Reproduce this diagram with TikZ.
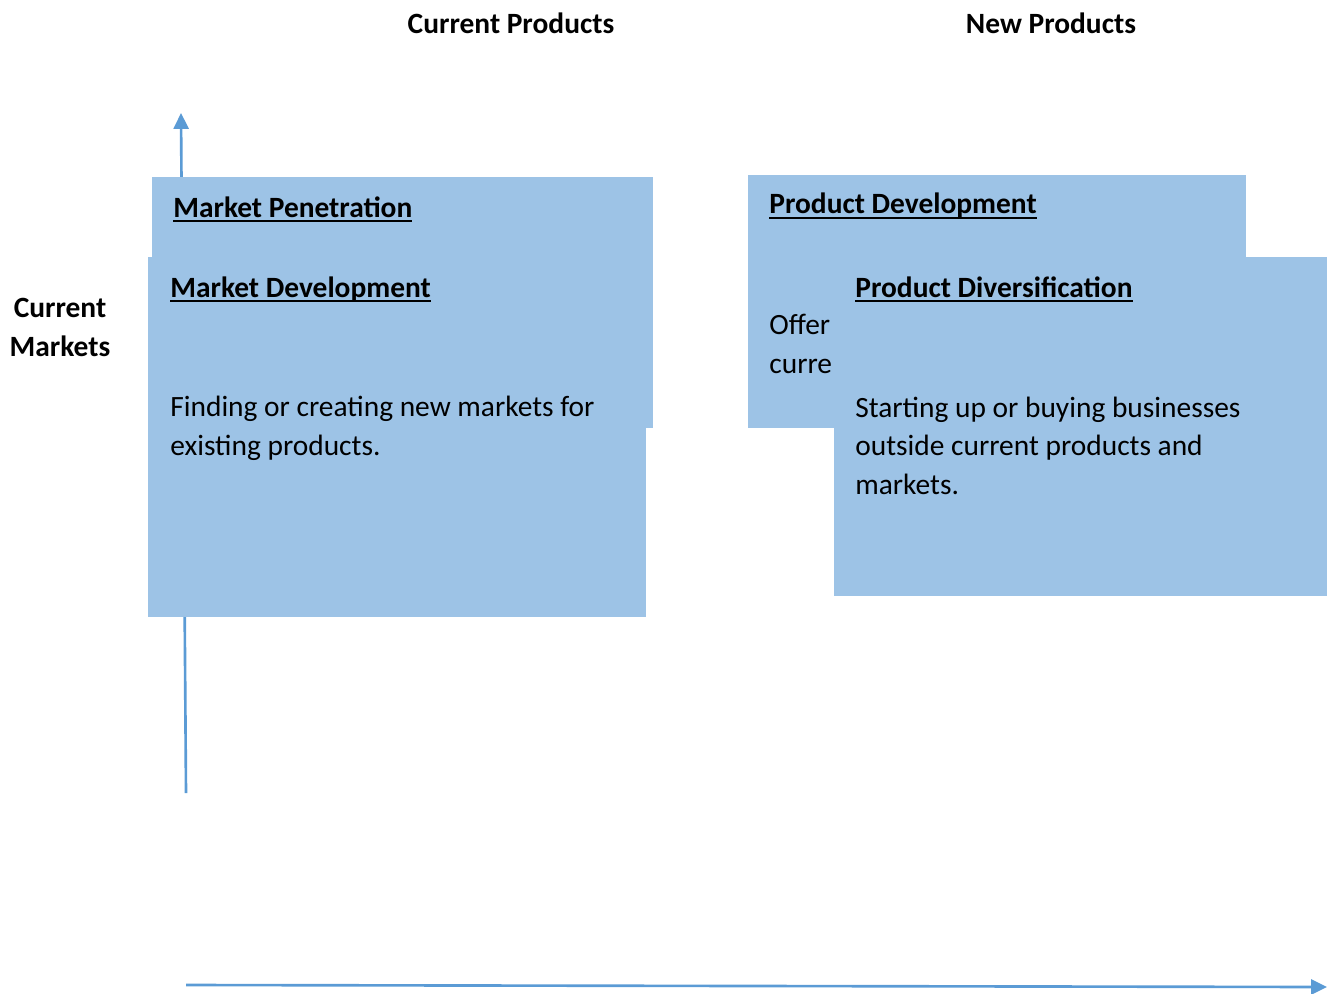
\documentclass[tikz,border=0pt]{standalone}
\usepackage{fontspec}
\setmainfont{Carlito}
\usetikzlibrary{arrows.meta}
\definecolor{boxblue}{HTML}{9DC3E6}
\definecolor{axisblue}{HTML}{5B9BD5}
% underline drawn as a rule just below the baseline
\newcommand{\titleline}[1]{\setbox0\hbox{#1}\rlap{\rule[-2.7pt]{\wd0}{1.2pt}}\box0}

\begin{document}
\begin{tikzpicture}[x=0.02cm,y=-0.02cm,
  quad/.style={fill=boxblue, draw=none, anchor=north west, inner sep=0pt, outer sep=0pt},
  body/.style={anchor=base west, inner sep=0pt, align=left,
    font=\fontsize{16.75}{21.9}\selectfont},
  head/.style={body, font=\fontsize{16.75}{21.9}\selectfont\bfseries},
  axis/.style={draw=axisblue, line width=1.5pt,
    -{Triangle[length=9pt,width=8.5pt]}}]

% page frame
\useasboundingbox (0,0) rectangle (1327,993);

% column and row headings (multi-line nodes sit on their last baseline)
\node[head, anchor=base] (cp) at (511,34) {Current Products};
\node[head, anchor=base] (np) at (1051,34) {New Products};
\node[head, anchor=base, align=center] (cm) at (60,356) {Current\\Markets};

% axes
\coordinate (vbot) at (186,793);
\coordinate (vtop) at (181,113);
\coordinate (hleft) at (186,985);
\coordinate (hright) at (1327,987);
\draw[axis] (vbot) -- (vtop);
\draw[axis] (hleft) -- (hright);

% quadrant: market penetration
\node[quad, minimum width=10.02cm, minimum height=5.02cm] (mpbox) at (152,177) {};
\node[head] (mptitle) at (173,217) {\titleline{Market Penetration}};

% quadrant: market development
\node[quad, minimum width=9.96cm, minimum height=7.2cm] (mdbox) at (148,257) {};
\node[head] (mdtitle) at (170,297) {\titleline{Market Development}};
\node[body] (mdtext) at (170,455) {Finding or creating new markets for\\existing products.};

% quadrant: product development
\node[quad, minimum width=9.96cm, minimum height=5.06cm] (pdbox) at (748,175) {};
\node[head] (pdtitle) at (769,214) {\titleline{Product Development}};
\node[body] (pdtext) at (769,373) {Offer\\curre};

% quadrant: product diversification
\node[quad, minimum width=9.86cm, minimum height=6.78cm] (pvbox) at (834,257) {};
\node[head] (pvtitle) at (855,297) {\titleline{Product Diversification}};
\node[body] (pvtext) at (855,494) {Starting up or buying businesses\\outside current products and\\markets.};

\end{tikzpicture}
\end{document}
